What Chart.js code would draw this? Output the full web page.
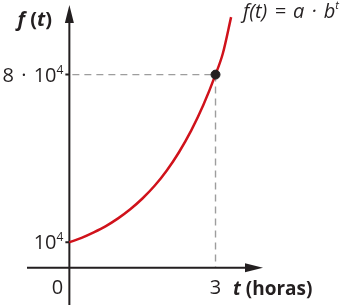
<!DOCTYPE html>
<html>
<head>
<meta charset="utf-8">
<script src="https://cdn.jsdelivr.net/npm/chart.js@4"></script>
<style>
  html, body { margin: 0; padding: 0; background: #fff; }
  #wrap { width: 343px; height: 305px; position: relative; }
</style>
</head>
<body>
<div id="wrap"><canvas id="exp-chart"></canvas></div>
<script>
"use strict";

//=> Data (t in hours, f(t))
var tValues = [0, 0.25, 0.5, 0.75, 1, 1.25, 1.5, 1.75, 2, 2.25, 2.5, 2.75, 3, 3.15, 3.32];
var fValues = [10000, 11900, 14200, 16800, 20000, 23800, 28300, 33600, 40000, 47600, 56600, 67300, 80000, 88800, 104000];
var markT = [3];
var markF = [80000];
var yTicks = [10000, 80000];
var yTickLabels = [['10', '4'], ['8 \u200a·\u200a 10', '4']];
var xTicks = [0, 3];
var xTickLabels = ['0', '3'];

var FONT = '"Open Sans", "Noto Sans", sans-serif';
var INK = '#231f20';

//=> Draw a run of text pieces (with superscripts)
function drawParts(ctx, parts, x, y, align) {
    var total = 0;
    parts.forEach(function (p) {
        ctx.font = p.font;
        p.w = ctx.measureText(p.text).width;
        total += p.w;
    });
    var cx = align === 'right' ? x - total : (align === 'center' ? x - total / 2 : x);
    ctx.textAlign = 'left';
    ctx.textBaseline = 'alphabetic';
    parts.forEach(function (p) {
        ctx.font = p.font;
        ctx.fillText(p.text, cx, y + (p.dy || 0));
        cx += p.w;
    });
}

function arrow(ctx, x, y, dir) {
    ctx.beginPath();
    if (dir === 'up') {
        ctx.moveTo(x, y);
        ctx.lineTo(x - 4.5, y + 18);
        ctx.lineTo(x + 4.5, y + 18);
    } else {
        ctx.moveTo(x, y);
        ctx.lineTo(x - 18, y - 4.5);
        ctx.lineTo(x - 18, y + 4.5);
    }
    ctx.closePath();
    ctx.fill();
}

var axesPlugin = {
    id: 'axesPlugin',
    beforeDatasetsDraw: function (chart) {
        var ctx = chart.ctx, xs = chart.scales.x, ys = chart.scales.y;
        var x0 = xs.getPixelForValue(0), y0 = ys.getPixelForValue(0) + 1.5;
        var px = xs.getPixelForValue(markT[0]), py = ys.getPixelForValue(markF[0]);
        ctx.save();
        // dashed guides
        ctx.strokeStyle = '#9d9d9d';
        ctx.lineWidth = 1.4;
        ctx.setLineDash([7, 5]);
        ctx.beginPath();
        ctx.moveTo(x0 + 3, py);
        ctx.lineTo(px, py);
        ctx.moveTo(px, py);
        ctx.lineTo(px, y0);
        ctx.stroke();
        ctx.setLineDash([]);
        // axes
        ctx.strokeStyle = INK;
        ctx.fillStyle = INK;
        ctx.lineWidth = 2;
        ctx.beginPath();
        ctx.moveTo(x0, chart.height);
        ctx.lineTo(x0, 20);
        ctx.moveTo(27, y0);
        ctx.lineTo(248, y0);
        yTicks.forEach(function (v) {
            var yy = ys.getPixelForValue(v);
            ctx.moveTo(x0 - 4, yy);
            ctx.lineTo(x0, yy);
        });
        ctx.stroke();
        arrow(ctx, x0, 5, 'up');
        arrow(ctx, 263, y0, 'right');
        ctx.restore();
    },
    afterDraw: function (chart) {
        var ctx = chart.ctx, xs = chart.scales.x, ys = chart.scales.y;
        var x0 = xs.getPixelForValue(0);
        ctx.save();
        ctx.fillStyle = INK;
        var num = '20px ' + FONT, sup = '12px ' + FONT;
        yTicks.forEach(function (v, i) {
            var yy = ys.getPixelForValue(v);
            drawParts(ctx, [
                { text: yTickLabels[i][0], font: num },
                { text: yTickLabels[i][1], font: sup, dy: -8 }
            ], x0 - 6, yy + 7, 'right');
        });
        xTicks.forEach(function (v, i) {
            var xx = xs.getPixelForValue(v);
            if (v === 0) xx -= 12;
            drawParts(ctx, [{ text: xTickLabels[i], font: num }], xx, 294, 'center');
        });
        // axis titles
        drawParts(ctx, [
            { text: 'f', font: 'italic bold 20px ' + FONT },
            { text: ' (', font: 'bold 20px ' + FONT },
            { text: 't', font: 'italic bold 20px ' + FONT },
            { text: ')', font: 'bold 20px ' + FONT }
        ], 52, 26, 'right');
        drawParts(ctx, [
            { text: 't', font: 'italic bold 19px ' + FONT },
            { text: ' (horas)', font: 'bold 19px ' + FONT }
        ], 233, 295, 'left');
        // formula
        drawParts(ctx, [
            { text: 'f(t) \u200a=\u200a a \u200a·\u200a b', font: 'italic 20px ' + FONT },
            { text: 't', font: 'italic 11px ' + FONT, dy: -9 }
        ], 243, 18, 'left');
        ctx.restore();
    }
};

//=> Chart
var ctx = document.getElementById('exp-chart').getContext('2d');
var myChart = new Chart(ctx, {
    type: 'scatter',
    data: {
        datasets: [{
            label: 'marca',
            data: markT.map(function (t, i) { return { x: t, y: markF[i] }; }),
            backgroundColor: '#231f20',
            borderColor: '#231f20',
            pointRadius: 4.5,
            order: 0
        }, {
            label: 'f(t)',
            data: tValues.map(function (t, i) { return { x: t, y: fValues[i] }; }),
            showLine: true,
            borderColor: '#d0121b',
            borderWidth: 2.5,
            pointRadius: 0,
            cubicInterpolationMode: 'monotone',
            order: 1
        }]
    },
    options: {
        responsive: true,
        maintainAspectRatio: false,
        animation: false,
        layout: { padding: 0 },
        plugins: { legend: { display: false }, tooltip: { enabled: false } },
        scales: {
            x: { type: 'linear', display: false, min: -1.311, max: 5.504 },
            y: { type: 'linear', display: false, min: -13856, max: 108848 }
        }
    },
    plugins: [axesPlugin]
});
</script>
</body>
</html>
